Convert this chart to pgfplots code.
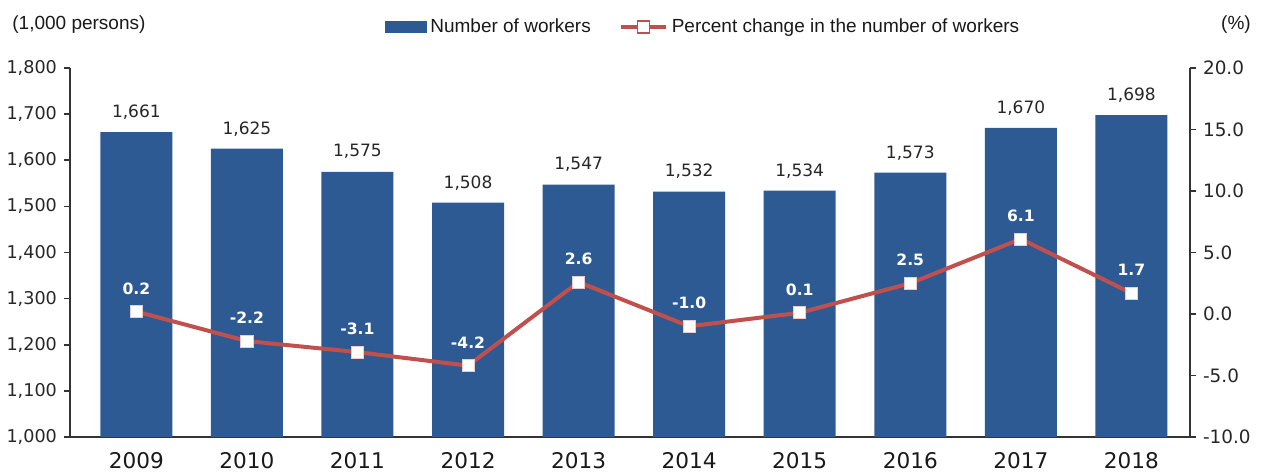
\documentclass[border=0pt]{standalone}
\usepackage{fontspec}
\setmainfont{Liberation Sans}
\newfontfamily\dejavu{DejaVu Sans}
\usepackage{pgfplots}
\pgfplotsset{compat=1.18}
\definecolor{barblue}{HTML}{2E5A94}
\definecolor{linered}{HTML}{C0504D}
\begin{document}
\begin{tikzpicture}
\begin{axis}[
  at={(0pt,0pt)}, anchor=south west,
  scale only axis, width=560pt, height=184.5pt,
  xmin=-0.6, xmax=9.53, ymin=1000, ymax=1800,
  ytick={1000,1100,...,1800},
  xtick={0,...,9}, xticklabels={2009,2010,2011,2012,2013,2014,2015,2016,2017,2018},
  axis y line*=left, axis x line*=bottom,
  tick align=outside, major tick length=3pt,
  x tick style={draw=none},
  axis line style={black!80, line width=0.8pt},
  y tick style={black!80, line width=0.8pt},
  /pgf/number format/.cd, 1000 sep={,}, assume math mode=true, /pgfplots/.cd,
  yticklabel style={font=\dejavu\fontsize{8.8}{10}\selectfont, text=black!85},
  xticklabel style={font=\dejavu\fontsize{10.8}{12}\selectfont, text=black!90, yshift=-1pt},
]
\addplot[ybar, bar width=36pt, fill=barblue, draw=none,
  nodes near coords,
  every node near coord/.append style={font=\dejavu\fontsize{8.5}{10}\selectfont, text=black!85, anchor=center, yshift=10pt}]
  coordinates {(0,1661) (1,1625) (2,1575) (3,1508) (4,1547) (5,1532) (6,1534) (7,1573) (8,1670) (9,1698)};
\end{axis}
\begin{axis}[
  at={(0pt,0pt)}, anchor=south west,
  scale only axis, width=560pt, height=184.5pt,
  xmin=-0.6, xmax=9.53, ymin=-10, ymax=20,
  ytick={-10,-5,...,20},
  axis y line*=right, axis x line=none,
  tick align=outside, major tick length=3pt,
  axis line style={black!80, line width=0.8pt},
  y tick style={black!80, line width=0.8pt},
  /pgf/number format/.cd, fixed, fixed zerofill, precision=1, assume math mode=true, /pgfplots/.cd,
  yticklabel style={font=\dejavu\fontsize{9.2}{10}\selectfont, text=black!85},
  legend columns=2,
  legend style={draw=none, fill=none, at={(0.566,1.111)}, anchor=center,
    font=\fontsize{9.5}{11}\selectfont, text=black!90,
    /tikz/every even column/.append style={column sep=12pt}},
]
\addlegendimage{legend image code/.code={\fill[barblue] (0pt,-2.6pt) rectangle (20.5pt,2.6pt);}}
\addlegendentry{Number of workers}
\addplot[linered, line width=2pt, mark=square*, mark size=3pt,
  mark options={fill=white, draw=linered!30, line width=0.4pt},
  legend image code/.code={\draw[linered, line width=2pt] (0pt,0pt) -- (22.5pt,0pt); \node[draw=linered, line width=0.6pt, fill=white, minimum size=6pt, inner sep=0pt] at (11.25pt,0pt) {};},
  nodes near coords,
  every node near coord/.append style={font=\dejavu\bfseries\fontsize{7.8}{9}\selectfont, text=white, anchor=center, yshift=11.5pt}]
  coordinates {(0,0.2) (1,-2.2) (2,-3.1) (3,-4.2) (4,2.6) (5,-1.0) (6,0.1) (7,2.5) (8,6.1) (9,1.7)};
\addlegendentry{Percent change in the number of workers}
\end{axis}
\node[anchor=west, font=\fontsize{9.5}{11}\selectfont, text=black!90, inner sep=0pt] at (-29pt,206pt) {(1,000 persons)};
\node[anchor=center, font=\fontsize{9.5}{11}\selectfont, text=black!90, inner sep=0pt] at (583pt,206pt) {(\%)};
\pgfresetboundingbox
\useasboundingbox (-35pt,-18pt) rectangle (597.5pt,218.5pt);
\end{tikzpicture}
\end{document}
